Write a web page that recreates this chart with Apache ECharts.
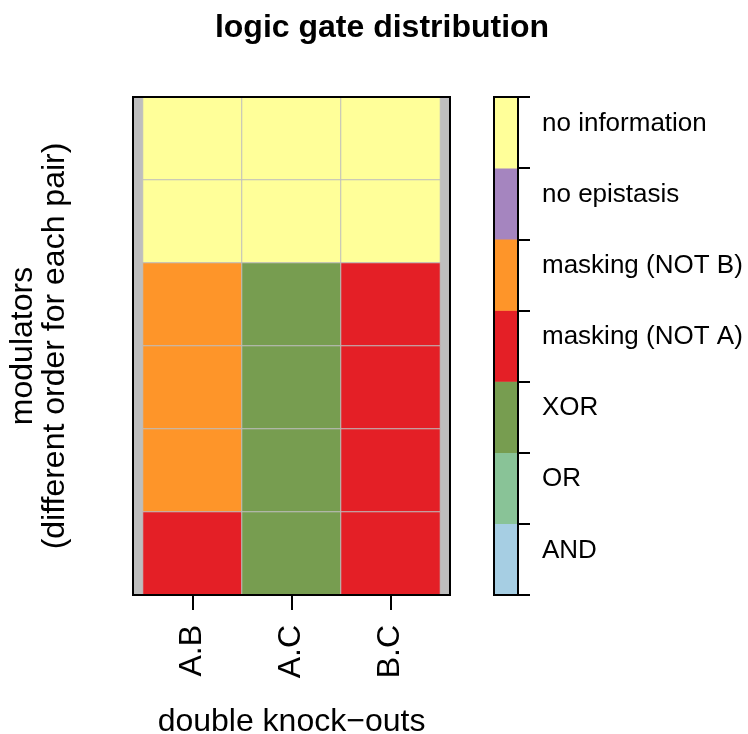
<!DOCTYPE html>
<html>
<head>
<meta charset="utf-8">
<script src="https://cdn.jsdelivr.net/npm/echarts@6/dist/echarts.min.js"></script>
<style>html,body{margin:0;padding:0;background:#fff}#c{width:748px;height:734px}</style>
</head>
<body>
<div id="c"></div>
<script>
// ---- data ----
const gateLevels = ['AND', 'OR', 'XOR', 'masking (NOT A)', 'masking (NOT B)', 'no epistasis', 'no information'];
const gateColors = ['#A6CEE3', '#89C397', '#779D50', '#E41F26', '#FE9529', '#A585BF', '#FFFF99'];
const pairs = ['A.B', 'A.C', 'B.C'];
const modulators = ['1', '2', '3', '4', '5', '6']; // top to bottom
const gatesAB = ['no information', 'no information', 'masking (NOT B)', 'masking (NOT B)', 'masking (NOT B)', 'masking (NOT A)'];
const gatesAC = ['no information', 'no information', 'XOR', 'XOR', 'XOR', 'XOR'];
const gatesBC = ['no information', 'no information', 'masking (NOT A)', 'masking (NOT A)', 'masking (NOT A)', 'masking (NOT A)'];

const columns = [gatesAB, gatesAC, gatesBC];
const cellData = [];
columns.forEach((col, xi) => col.forEach((g, yi) => cellData.push([xi, yi, gateLevels.indexOf(g)])));
const barData = gateLevels.map((g, i) => [0, i, i]);

const FONT = "'Liberation Sans', Arial, Helvetica, sans-serif";
const chart = echarts.init(document.getElementById('c'), null, {renderer: 'canvas'});

const hiddenAxis = (gi) => ({type: 'value', gridIndex: gi, show: false});

chart.setOption({
  animation: false,
  backgroundColor: '#ffffff',
  textStyle: {fontFamily: FONT},
  title: {
    text: 'logic gate distribution',
    left: 377, top: 7, textAlign: 'center',
    textStyle: {fontFamily: FONT, fontSize: 32, fontWeight: 'bold', color: '#000'}
  },
  grid: [
    {left: 133, top: 97, width: 317, height: 498, show: true, backgroundColor: '#BEBEBE', borderWidth: 0, outerBoundsMode: 'none', z: 0},
    {left: 143, top: 97, width: 297, height: 498, outerBoundsMode: 'none'},
    {left: 133, top: 97, width: 317, height: 498, show: true, backgroundColor: 'transparent', borderColor: '#000', borderWidth: 2, outerBoundsMode: 'none', z: 10},
    {left: 494, top: 97, width: 24, height: 498, show: true, backgroundColor: 'transparent', borderColor: '#000', borderWidth: 2, outerBoundsMode: 'none', z: 10}
  ],
  xAxis: [
    hiddenAxis(0),
    {
      type: 'category', gridIndex: 1, data: pairs, position: 'bottom',
      axisLine: {show: false},
      axisTick: {show: true, alignWithLabel: true, length: 15, lineStyle: {color: '#000', width: 2}},
      axisLabel: {rotate: 90, margin: 30, fontSize: 32, color: '#000', fontFamily: FONT},
      splitLine: {show: false},
      name: 'double knock\u2212outs', nameLocation: 'middle', nameGap: 111,
      nameTextStyle: {fontSize: 32, color: '#000', fontFamily: FONT}
    },
    hiddenAxis(2),
    {type: 'category', gridIndex: 3, data: ['bar'], show: false}
  ],
  yAxis: [
    hiddenAxis(0),
    {
      type: 'category', gridIndex: 1, data: modulators, inverse: true,
      axisLine: {show: false}, axisTick: {show: false}, axisLabel: {show: false}, splitLine: {show: false},
      name: 'modulators\n(different order for each pair)', nameLocation: 'middle', nameRotate: 90, nameGap: 72,
      nameTextStyle: {fontSize: 32, lineHeight: 32, color: '#000', fontFamily: FONT, align: 'center'}
    },
    hiddenAxis(2),
    {
      type: 'category', gridIndex: 3, data: gateLevels, position: 'right',
      axisLine: {show: true, lineStyle: {color: '#000', width: 2}},
      axisTick: {show: true, length: 12, lineStyle: {color: '#000', width: 2}},
      axisLabel: {margin: 24, fontSize: 26, lineHeight: 18, verticalAlign: 'bottom', color: '#000', fontFamily: FONT},
      splitLine: {show: false}
    }
  ],
  visualMap: {
    type: 'piecewise', show: false, dimension: 2, seriesIndex: [0, 1],
    pieces: gateColors.map((c, i) => ({value: i, color: c, label: gateLevels[i]}))
  },
  series: [
    {
      type: 'heatmap', xAxisIndex: 1, yAxisIndex: 1, data: cellData,
      itemStyle: {borderColor: '#BEBEBE', borderWidth: 1},
      emphasis: {disabled: true}
    },
    {
      type: 'heatmap', xAxisIndex: 3, yAxisIndex: 3, data: barData,
      itemStyle: {borderWidth: 0},
      emphasis: {disabled: true}
    }
  ]
});
</script>
</body>
</html>
